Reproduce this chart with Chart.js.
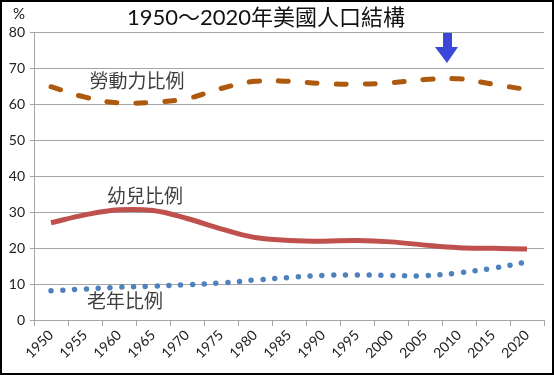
<!DOCTYPE html>
<html>
<head>
<meta charset="utf-8">
<script src="https://cdn.jsdelivr.net/npm/chart.js@4.4.0/dist/chart.umd.min.js"></script>
<style>
  body { margin: 0; background: #fff; }
  canvas { display: block; }
</style>
</head>
<body>
<canvas id="renkou" width="554" height="375"></canvas>
<script>
// 1950~2020 美國人口結構 (%)
var years = ["1950", "1955", "1960", "1965", "1970", "1975", "1980", "1985",
  "1990", "1995", "2000", "2005", "2010", "2015", "2020"];
var laborRatio = [64.8, 61.9, 60.3, 60.5, 61.5, 64.3, 66.3, 66.3, 65.7, 65.5, 65.9, 66.8, 67.0, 65.5, 64.0];
var childRatio = [27.0, 29.2, 30.6, 30.4, 28.2, 25.3, 22.9, 22.1, 21.9, 22.1, 21.7, 20.8, 20.1, 19.9, 19.7];
var elderRatio = [8.1, 8.6, 9.1, 9.4, 9.8, 10.3, 11.1, 11.8, 12.4, 12.5, 12.4, 12.3, 13.1, 14.4, 16.1];
var seriesNames = ["勞動力比例", "幼兒比例", "老年比例"];
var yMin = 0, yMax = 80, yStep = 10;
var chartTitle = "1950～2020年美國人口結構";

var FONT = "Lato, 'Noto Sans CJK TC', sans-serif";
var CJK = "'Noto Sans CJK TC', sans-serif";

// title, unit, series labels, arrow and frame
var overlay = {
  id: "overlay",
  afterDraw: function (chart) {
    var ctx = chart.ctx;
    ctx.save();
    ctx.textAlign = "center";
    ctx.textBaseline = "middle";

    ctx.fillStyle = "#111";
    ctx.font = "22px " + FONT;
    ctx.fillText(chartTitle, 266, 18);

    ctx.font = "15px " + FONT;
    ctx.fillText("%", 19, 14);

    ctx.fillStyle = "#404040";
    ctx.font = "19px " + CJK;
    ctx.fillText(seriesNames[0], 137, 81);
    ctx.fillText(seriesNames[1], 145, 196);
    ctx.fillText(seriesNames[2], 125, 301);

    // arrow pointing down at 2010
    ctx.fillStyle = "#3b47d9";
    ctx.beginPath();
    ctx.moveTo(443, 33);
    ctx.lineTo(452, 33);
    ctx.lineTo(452, 47);
    ctx.lineTo(458, 47);
    ctx.lineTo(447, 63);
    ctx.lineTo(435, 47);
    ctx.lineTo(443, 47);
    ctx.closePath();
    ctx.fill();

    ctx.strokeStyle = "#000";
    ctx.lineWidth = 2;
    ctx.strokeRect(1, 1, 552, 373);
    ctx.restore();
  }
};

Chart.defaults.color = "#222";
Chart.defaults.font.family = FONT;

var ctx = document.getElementById("renkou").getContext("2d");
window.myLine = new Chart(ctx, {
  type: "line",
  data: {
    labels: years,
    datasets: [
      {
        label: seriesNames[0],
        data: laborRatio,
        borderColor: "#ae5a0e",
        borderWidth: 5,
        borderDash: [10, 19],
        borderCapStyle: "round",
        tension: 0.4,
        pointRadius: 0,
        fill: false
      },
      {
        label: seriesNames[1],
        data: childRatio,
        borderColor: "#c0504d",
        borderWidth: 5,
        tension: 0.4,
        pointRadius: 0,
        fill: false
      },
      {
        label: seriesNames[2],
        data: elderRatio,
        borderColor: "#4f81bd",
        borderWidth: 5.5,
        borderDash: [0, 11.8],
        borderCapStyle: "round",
        tension: 0.4,
        pointRadius: 0,
        fill: false
      }
    ]
  },
  options: {
    responsive: false,
    animation: false,
    layout: { padding: { top: 32, right: 10, left: 0, bottom: 0 } },
    plugins: {
      legend: { display: false },
      tooltip: { enabled: false },
      title: { display: false }
    },
    scales: {
      x: {
        offset: true,
        grid: { offset: true, drawOnChartArea: false, tickLength: 6, color: "#a6a6a6" },
        border: { color: "#a6a6a6" },
        ticks: { font: { size: 14 }, color: "#222", minRotation: 45, maxRotation: 45, autoSkip: false, padding: 1 },
        afterFit: function (axis) {
          axis.height = 55;
          axis.paddingLeft = 0;
          axis.paddingRight = 0;
        }
      },
      y: {
        min: yMin,
        max: yMax,
        ticks: { stepSize: yStep, font: { size: 14 }, color: "#222", padding: 5 },
        grid: { color: "#a6a6a6", tickLength: 4 },
        border: { color: "#a6a6a6" },
        afterFit: function (axis) {
          axis.width = 34;
        }
      }
    }
  },
  plugins: [overlay]
});
</script>
</body>
</html>
